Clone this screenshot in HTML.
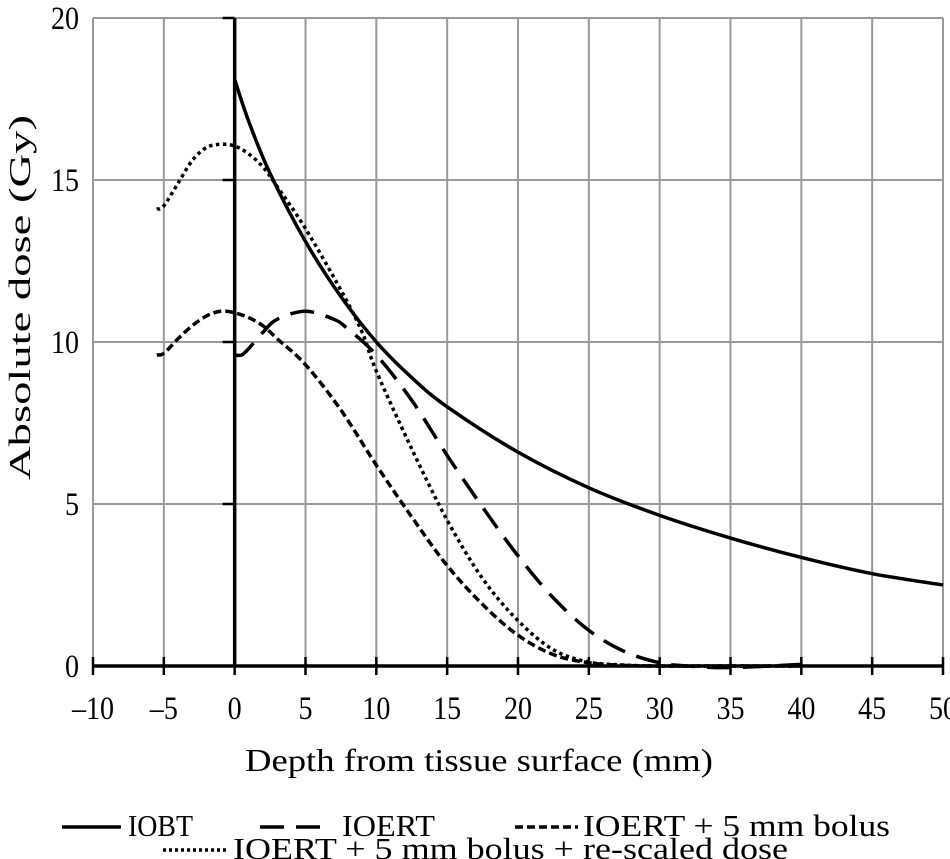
<!DOCTYPE html>
<html><head><meta charset="utf-8">
<style>
html,body{margin:0;padding:0;background:#fff;}
svg{display:block;font-family:"Liberation Serif",serif;}
</style></head>
<body>
<svg id="chart" width="950" height="859" viewBox="0 0 950 859" xmlns="http://www.w3.org/2000/svg">
<g id="grid"></g>
<g id="axes"></g>
<g id="series"></g>
<text x="245" y="771" font-size="32" textLength="468" lengthAdjust="spacingAndGlyphs">Depth from tissue surface (mm)</text>
<text transform="translate(30,480) rotate(-90)" font-size="31" textLength="365" lengthAdjust="spacingAndGlyphs">Absolute dose (Gy)</text>
<g font-size="31">
 <g>
  <line x1="62" y1="827" x2="121" y2="827" stroke="#000" stroke-width="3.5"/>
  <text x="128" y="836" textLength="65" lengthAdjust="spacingAndGlyphs">IOBT</text></g>
 <g>
  <line x1="260" y1="827" x2="330" y2="827" stroke="#000" stroke-width="3.5" stroke-dasharray="24,12"/>
  <text x="342" y="836" textLength="93" lengthAdjust="spacingAndGlyphs">IOERT</text></g>
 <g>
  <line x1="515" y1="827" x2="578" y2="827" stroke="#000" stroke-width="3.5" stroke-dasharray="8,4"/>
  <text x="583" y="836" textLength="307" lengthAdjust="spacingAndGlyphs">IOERT + 5 mm bolus</text></g>
 <g>
  <line x1="163" y1="850" x2="227" y2="850" stroke="#000" stroke-width="3.5" stroke-dasharray="3,3"/>
  <text x="233" y="859" textLength="555" lengthAdjust="spacingAndGlyphs">IOERT + 5 mm bolus + re-scaled dose</text></g>
</g>
</svg>
<script>
const xTicks=[-10,-5,0,5,10,15,20,25,30,35,40,45,50];
const yTicks=[0,5,10,15,20];
const iobtX=[0,1,2.5,5,7.5,10,12.5,15,20,25,30,35,40,45,50];
const iobtY=[18.1,16.8,15.2,13.1,11.4,10.0,8.9,8.0,6.6,5.5,4.65,3.95,3.35,2.85,2.5];
const ioertX=[0,0.5,1,2,3,5,7,8,10,12.5,15,17.5,20,22.5,25,27.5,30,32,35,40];
const ioertY=[9.6,9.6,9.8,10.3,10.7,10.95,10.7,10.4,9.6,8.2,6.5,4.9,3.4,2.1,1.1,0.45,0.1,0,-0.05,0.05];
const bolusX=[-5.5,-5,-4,-3,-2,-1,0,1,2,3,5,7.5,10,12.5,15,17.5,20,22.5,25,27.5,30,35,40];
const bolusY=[9.6,9.65,10.1,10.5,10.8,10.95,10.9,10.75,10.5,10.1,9.3,7.9,6.2,4.6,3.1,1.9,0.95,0.35,0.1,0.02,0,0,0];
const rescX=[-5.5,-5,-4,-3,-2,-1,0,1,2,3,5,7.5,9,10,12.5,15,17.5,20,22.5,25,27.5,30,35,40];
const rescY=[14.1,14.2,14.9,15.6,16.0,16.1,16.05,15.8,15.4,14.8,13.5,11.6,10.3,9.1,6.7,4.5,2.7,1.4,0.5,0.12,0.03,0,0,0];

const NS="http://www.w3.org/2000/svg";
const X0=93,X1=943,Y0=666,Y1=18;
const sx=v=>X0+(v+10)/60*(X1-X0);
const sy=v=>Y0-v/20*(Y0-Y1);
function mk(tag,attrs,parent){const e=document.createElementNS(NS,tag);for(const k in attrs)e.setAttribute(k,attrs[k]);parent.appendChild(e);return e;}
const grid=document.getElementById('grid'),axes=document.getElementById('axes'),series=document.getElementById('series');
xTicks.forEach(t=>{
 const l=mk('line',{x1:sx(t),x2:sx(t),y1:Y1,y2:Y0,stroke:'#999','stroke-width':2},grid);
 
 
 const tk=mk('line',{x1:sx(t),x2:sx(t),y1:Y0-9,y2:Y0+9,stroke:'#000','stroke-width':2.5},axes);
 
 
 const tx=mk('text',{x:sx(t),y:Y0+53,'font-size':33,'text-anchor':'middle',transform:'translate('+sx(t)+',0) scale(0.85,1) translate('+(-sx(t))+',0)'},axes);
 tx.textContent=t<0?'\u2013'+(-t):String(t);
 
 
});
yTicks.forEach(t=>{
 const l=mk('line',{x1:X0,x2:X1,y1:sy(t),y2:sy(t),stroke:'#999','stroke-width':2},grid);
 
 
 const tk=mk('line',{x1:sx(0)-12,x2:sx(0),y1:sy(t),y2:sy(t),stroke:'#000','stroke-width':2.5},axes);
 
 
 const ax=X0-14;
 const tx=mk('text',{x:ax,y:sy(t)+11,'font-size':33,'text-anchor':'end',transform:'translate('+ax+',0) scale(0.85,1) translate('+(-ax)+',0)'},axes);
 tx.textContent=String(t);
 
 
});
const xa=mk('line',{x1:X0,x2:X1,y1:Y0,y2:Y0,stroke:'#000','stroke-width':3.5},axes);


const ya=mk('line',{x1:sx(0),x2:sx(0),y1:Y1,y2:Y0,stroke:'#000','stroke-width':3.5},axes);



function pathD(xs,ys){
 const p=xs.map((x,i)=>[sx(x),sy(ys[i])]);
 let d='M'+p[0][0]+','+p[0][1];
 for(let i=0;i<p.length-1;i++){
  const p0=p[i-1]||p[i],p1=p[i],p2=p[i+1],p3=p[i+2]||p2;
  const c1=[p1[0]+(p2[0]-p0[0])/6,p1[1]+(p2[1]-p0[1])/6];
  const c2=[p2[0]-(p3[0]-p1[0])/6,p2[1]-(p3[1]-p1[1])/6];
  d+=' C'+c1+' '+c2+' '+p2;
 }
 return d;
}
function draw(xs,ys,dash,name){
 const a={d:pathD(xs,ys),fill:'none',stroke:'#000','stroke-width':3.5};
 if(dash)a['stroke-dasharray']=dash;
 const e=mk('path',a,series);
 
 
}
draw(iobtX,iobtY,null,'series-iobt');
draw(ioertX,ioertY,'24,12','series-ioert');
draw(bolusX,bolusY,'8,4','series-ioert-bolus');
draw(rescX,rescY,'3.5,3.5','series-ioert-bolus-rescaled');
</script>
</body></html>
